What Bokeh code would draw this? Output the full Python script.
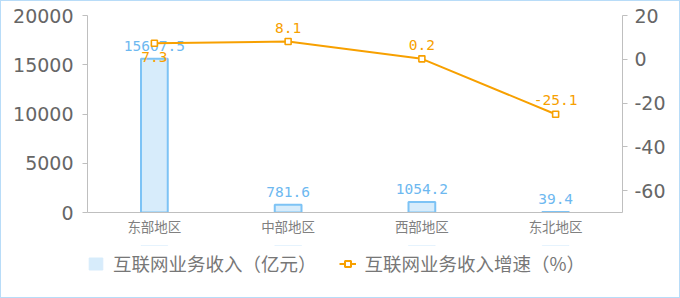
from bokeh.plotting import figure
from bokeh.layouts import column
from bokeh.models import (Range1d, LinearAxis, FixedTicker, Legend, LegendItem,
                          ColumnDataSource)
from bokeh.core.properties import value
from bokeh.embed import file_html
from bokeh.resources import INLINE

# ---- data ----
regions = ["东部地区", "中部地区", "西部地区", "东北地区"]
revenue = [15607.5, 781.6, 1054.2, 39.4]          # 互联网业务收入（亿元）
growth = [7.3, 8.1, 0.2, -25.1]                   # 互联网业务收入增速（%）
left_ticks = [0, 5000, 10000, 15000, 20000]
right_ticks = [-60, -40, -20, 0, 20]
series_names = ["互联网业务收入（亿元）", "互联网业务收入增速（%）"]

# ---- styles ----
ORANGE = "#f7a000"
BAR_FILL = "#d7ecfb"
BAR_LINE = "#7dc3f5"
BAR_TEXT = "#6db8f0"
AXIS_LINE = "#bfbfbf"
TICK_TEXT = "#666666"
CJK = "Noto Sans CJK SC"
growth_label_offsets = [14, -14, -14, -14]  # screen px (positive = below)

src = ColumnDataSource(dict(
    cat=regions, rev=revenue, g=growth,
    rev_lbl=[f"{v:.1f}" for v in revenue],
    g_lbl=[f"{v:.1f}" for v in growth],
    g_off=growth_label_offsets,
))

p = figure(x_range=regions, y_range=Range1d(0, 20000),
           width=680, height=245, output_backend="svg", toolbar_location=None,
           min_border_left=87, min_border_right=58, min_border_top=15,
           min_border_bottom=33)
p.border_fill_color = None
p.outline_line_color = None
p.xgrid.visible = False
p.ygrid.visible = False
p.extra_y_ranges = {"right": Range1d(-70, 20)}

# left axis
ya = p.yaxis[0]
ya.ticker = FixedTicker(ticks=left_ticks)
ya.axis_line_color = AXIS_LINE
ya.major_tick_line_color = AXIS_LINE
ya.major_tick_in = 0
ya.major_tick_out = 5
ya.minor_tick_line_color = None
ya.major_label_text_font = "DejaVu Sans"
ya.major_label_text_font_size = "19px"
ya.major_label_text_color = TICK_TEXT
ya.major_label_standoff = 9

# right axis
ra = LinearAxis(y_range_name="right", ticker=FixedTicker(ticks=right_ticks))
ra.major_label_overrides = {t: str(t) for t in right_ticks}
ra.axis_line_color = AXIS_LINE
ra.major_tick_line_color = AXIS_LINE
ra.major_tick_in = 0
ra.major_tick_out = 5
ra.minor_tick_line_color = None
ra.major_label_text_font = "DejaVu Sans"
ra.major_label_text_font_size = "19px"
ra.major_label_text_color = TICK_TEXT
ra.major_label_standoff = 7
p.add_layout(ra, "right")

# x axis
xa = p.xaxis[0]
xa.axis_line_color = AXIS_LINE
xa.major_tick_line_color = None
xa.minor_tick_line_color = None
xa.major_label_text_font = CJK
xa.major_label_text_font_size = "13.5px"
xa.major_label_text_color = "#808080"
xa.major_label_standoff = -3

# bars
p.vbar(x="cat", top="rev", width=0.2, source=src, fill_color=BAR_FILL,
       line_color=BAR_LINE, line_width=2)
p.text(x="cat", y="rev", text="rev_lbl", source=src, text_align="center",
       text_baseline="middle", y_offset=-13, text_color=BAR_TEXT,
       text_font=value("DejaVu Sans Mono"), text_font_size="14.5px")

# line
p.line(x="cat", y="g", source=src, y_range_name="right", line_color=ORANGE,
       line_width=2)
p.scatter(x="cat", y="g", source=src, y_range_name="right", marker="square",
          size=6, fill_color="white", line_color=ORANGE, line_width=1.6)
p.text(x="cat", y="g", text="g_lbl", source=src, y_range_name="right",
       text_align="center", text_baseline="middle", y_offset="g_off",
       text_color=ORANGE, text_font=value("DejaVu Sans Mono"),
       text_font_size="14.5px")

# legend strip: separate figure; its renderers use the same data but lie
# outside its (hidden) y range, so only the legend is visible
pl = figure(width=680, height=53, output_backend="svg", toolbar_location=None,
            x_range=p.x_range, y_range=Range1d(-2e5, -1e5),
            min_border_left=0, min_border_right=0,
            min_border_top=0, min_border_bottom=0)
pl.axis.visible = False
pl.grid.visible = False
pl.outline_line_color = None
pl.border_fill_color = None
pl.background_fill_color = None
lb = pl.vbar(x="cat", top="rev", width=0.2, source=src, fill_color=BAR_FILL,
             line_color=BAR_FILL)
ll = pl.line(x="cat", y="g", source=src, line_color=ORANGE, line_width=2)
ls = pl.scatter(x="cat", y="g", source=src, marker="square", size=7,
                fill_color="white", line_color=ORANGE, line_width=2)
legend = Legend(items=[LegendItem(label=series_names[0], renderers=[lb]),
                       LegendItem(label=series_names[1], renderers=[ll, ls])],
                orientation="horizontal", location=(0, 22), padding=0,
                margin=0, spacing=22, glyph_width=17, glyph_height=15,
                label_standoff=9, label_height=24,
                label_text_font=CJK, label_text_font_size="18.5px",
                label_text_color="#777777", border_line_color=None,
                background_fill_alpha=0)
pl.add_layout(legend)

layout = column(p, pl, spacing=0)
layout.styles = {"box-shadow": "inset 0 0 0 1px #b8dcf8"}

open("out.html", "w").write(file_html(layout, INLINE))
